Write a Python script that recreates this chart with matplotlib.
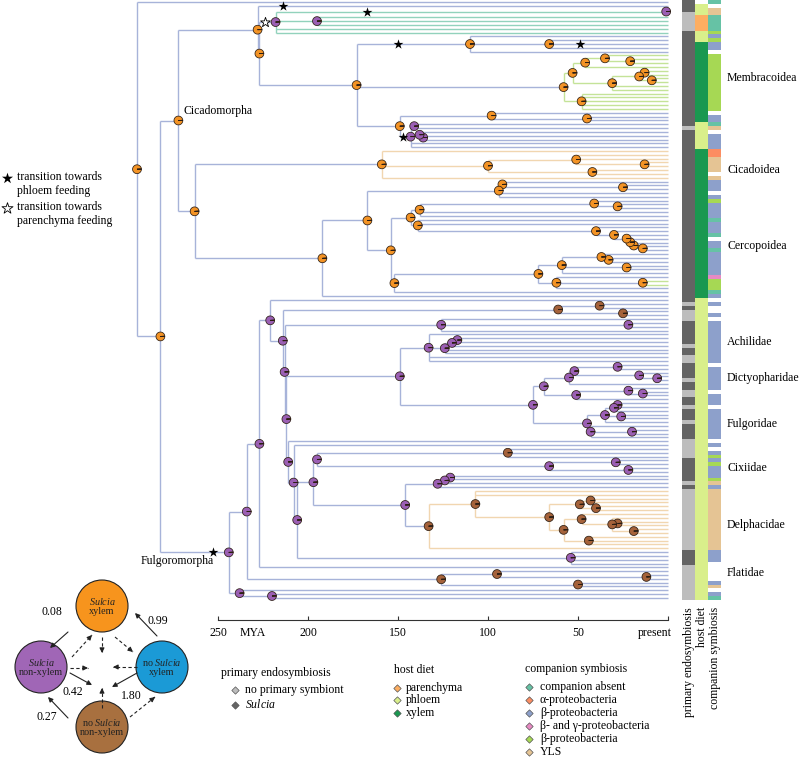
import matplotlib
matplotlib.use('Agg')
import matplotlib.pyplot as plt
from matplotlib.patches import Wedge, Circle
import matplotlib.transforms as mtransforms
from matplotlib.collections import LineCollection

plt.rcParams['font.family'] = ['Liberation Serif', 'DejaVu Serif']
plt.rcParams['mathtext.fontset'] = 'custom'
plt.rcParams['mathtext.rm'] = 'Liberation Serif'
plt.rcParams['mathtext.it'] = 'Liberation Serif:italic'
FS = 8.5

# ---------------- tree description (ages in MYA) ----------------
def T(star=None):
    return dict(age=0.0, pie=None, kids=[], col=None, star=star)

def N(age, pie, kids, col=None, star=None):
    return dict(age=age, pie=pie, kids=kids, col=col, star=star)

# Cicadomorpha, upper clade
p3 = N(218, 'p', [N(1, 'p', [T(), T()], star=(167, 'f')), N(195, 'p', [T(), T(), T()]), T(), T()],
       col='teal', star=(224, 'o'))
q1 = N(110, 'o', [T(), N(66, 'o', [T(), T(star=(49, 'f')), T()]), T()], star=(150, 'f'))
membracoidea = N(58, 'o', [
    N(53, 'o', [N(46, 'o', [N(35, 'o', [T(), N(21, 'o', [T(), T()])]), T()]),
                N(31, 'o', [N(16, 'o', [N(13, 'o', [T(), T()]), N(9, 'o', [T(), T()])]), T(), T()])]),
    N(48, 'o', [T(), T(), T(), T(), T()])], col='green')
purp = N(143, 'p', [N(141, 'p', [T(), T()]), N(138, 'p', [T(), N(136, 'p', [T(), T()])]), T(), T()],
         star=(147, 'f'))
q3 = N(149, 'o', [N(98, 'o', [T(), N(45, 'o', [T(), T()])]), purp])
p4 = N(173, 'o', [q1, membracoidea, q3])
top_clade = N(228, 'o', [T(star=(214, 'f')), N(227, 'o', [p3, p4])])

# Cicadoidea
cicadoidea = N(159, 'o', [T(), N(100, 'o', [N(51, 'o', [T(), T(), N(13, 'o', [T(), T()])]),
                                            N(42, 'o', [T(), T()])]), T()], col='tan')
# Cercopoidea
c1a = N(94, 'o', [N(92, 'o', [T(), N(25, 'o', [T(), T()])]), T(), T()])
d1a = N(138, 'o', [N(41, 'o', [T(), N(28, 'o', [T(), T()])]), T(), T()])
d1b = N(139, 'o', [T(), T(), N(40, 'o', [T(), N(30, 'o', [T(), N(23, 'o', [T(), N(21, 'o', [
    T(), N(19, 'o', [T(), N(14, 'o', [T(), T()])])])])])])])
d2 = N(152, 'o', [N(72, 'o', [N(59, 'o', [N(37, 'o', [T(), N(33, 'o', [T(), T()])]), N(23, 'o', [T(), T()]), T()]),
                              N(62, 'o', [T(), N(14, 'o', [T(), T()], col='green'), T()])]), T()])
cercopoidea = N(192, 'o', [N(167, 'o', [c1a, N(154, 'o', [N(143, 'o', [d1a, d1b]), d2])]), T()])

cicadomorpha = N(272, 'o', [top_clade, N(263, 'o', [cicadoidea, cercopoidea])])

# Fulgoromorpha
n62b = N(61, 'b', [N(38, 'b', [T(), T()]), N(25, 'b', [T(), T()])])
d_cl = N(126, 'p', [T(), N(22, 'p', [T(), T()]), T()])
achilidae = N(133, 'p', [T(), N(124, 'p', [N(120, 'p', [N(117, 'p', [T(), T()]), T()]), T(), T()]), T(), T()])
dictyopharidae = N(69, 'p', [N(55, 'p', [N(52, 'p', [N(28, 'p', [T(), T()]), N(16, 'p', [T(), N(6, 'p', [T(), T()])])]), T()]),
                             N(51, 'p', [N(22, 'p', [T(), N(14, 'p', [T(), T()])]), T()])])
fulgoridae = N(45, 'p', [N(35, 'p', [N(30, 'p', [N(28, 'p', [T(), T()]), T()]), N(26, 'p', [T(), T()]), T()]),
                         N(43, 'p', [T(), N(20, 'p', [T(), T()]), T()])])
delphacidae = N(133, 'b', [N(107, 'b', [T(), T(), N(66, 'b', [
    N(49, 'b', [N(43, 'b', [T(), T()]), N(40, 'b', [T(), T()])]),
    N(58, 'b', [N(48, 'b', [T(), N(31, 'b', [T(), N(28, 'b', [T(), T()]), N(19, 'b', [T(), T()])])]),
                N(44, 'b', [T(), T(), T()])])])]), T()], col='tan')
p_cl = N(195, 'p', [N(89, 'b', [T(), T(), T()]), N(66, 'p', [N(29, 'p', [T(), T()]), N(22, 'p', [T(), T()])])])
r_cl = N(128, 'p', [N(124, 'p', [N(121, 'p', [T(), T()]), T()]), T()])
m_cl = N(197, 'p', [p_cl, N(146, 'p', [r_cl, delphacidae])])
l_cl = N(206, 'p', [m_cl, N(54, 'p', [T(), T(), T(), T()])])
h_cl = N(211, 'p', [T(), N(208, 'p', [T(), l_cl])])
e_cl = N(212, 'p', [N(149, 'p', [achilidae, N(75, 'p', [dictyopharidae, fulgoridae])]), h_cl])
a_cl = N(221, 'p', [T(), N(214, 'p', [n62b, N(213, 'p', [d_cl, e_cl])])])
flatidae = N(126, 'b', [N(95, 'b', [T(), N(12, 'b', [T(), T()])]), N(50, 'b', [T(), T()])])
fulgoromorpha = N(244, 'p', [N(234, 'p', [N(227, 'p', [a_cl, T()]), flatidae]),
                             N(238, 'p', [T(), N(220, 'p', [T(), T()])])], star=(253, 'f'))

tree = N(295, 'o', [T(), N(282, 'o', [cicadomorpha, fulgoromorpha])])

# ---------------- tip annotation columns (run lengths, top to bottom) ----------------
primary_runs = [('S', 3), ('N', 5), ('S', 25), ('N', 1), ('S', 45), ('N', 1), ('S', 1), ('N', 3),
                ('S', 6), ('N', 1), ('S', 2), ('N', 2), ('S', 4), ('N', 1), ('S', 2), ('N', 2),
                ('S', 2), ('N', 1), ('S', 3), ('N', 1), ('S', 4), ('N', 5), ('S', 6), ('N', 1),
                ('S', 1), ('N', 16), ('S', 4), ('N', 9)]
diet_runs = [('-', 1), ('P', 3), ('R', 4), ('P', 3), ('X', 21), ('P', 7), ('X', 39), ('P', 79)]
companion_runs = [('a', 1), ('-', 1), ('y', 2), ('a', 4), ('g', 1), ('b', 1), ('g', 1), ('b', 2), ('-', 1),
                  ('g', 15), ('-', 1), ('b', 2), ('a', 1), ('y', 1), ('-', 1), ('b', 4), ('o', 2), ('y', 4),
                  ('-', 1), ('y', 1), ('b', 3), ('-', 1), ('b', 1), ('g', 1), ('b', 4), ('a', 1), ('b', 3),
                  ('a', 1), ('-', 1), ('b', 2), ('a', 1), ('b', 6), ('k', 1), ('g', 3), ('a', 1), ('b', 1),
                  ('-', 1), ('b', 1), ('-', 2), ('b', 1), ('-', 1), ('b', 11), ('-', 1), ('b', 6), ('-', 1),
                  ('b', 3), ('-', 1), ('b', 8), ('-', 1), ('b', 1), ('-', 1), ('b', 1), ('g', 1), ('b', 1),
                  ('g', 1), ('b', 3), ('g', 1), ('y', 1), ('b', 1), ('y', 16), ('b', 3), ('-', 5), ('b', 1),
                  ('y', 1), ('-', 1), ('b', 1), ('a', 1)]

clade_names = ['Membracoidea', 'Cicadoidea', 'Cercopoidea', 'Achilidae', 'Dictyopharidae',
               'Fulgoridae', 'Cixiidae', 'Delphacidae', 'Flatidae']
clade_tip_pos = [20, 44, 64, 89, 98.5, 110.5, 122, 137, 149.5]

axis_ticks = [250, 200, 150, 100, 50, 0]
axis_labels = ['250', '200', '150', '100', '50', '']

diag_states = ['$\\it{Sulcia}$\nxylem', '$\\it{Sulcia}$\nnon-xylem', 'no $\\it{Sulcia}$\nxylem',
               'no $\\it{Sulcia}$\nnon-xylem']
diag_rates = ['0.08', '0.99', '0.42', '1.80', '0.27']

# ---------------- styles ----------------
BR_COL = {'blue': '#a7b3d9', 'teal': '#92d2bc', 'green': '#c4e398', 'tan': '#f1d6b0'}
PIE_COL = {'o': ('#f39325', '#8e4fa8'), 'p': ('#9b5fb4', '#f39325'), 'b': ('#a5623a', '#9b5fb4')}
PRIM_COL = {'S': '#646464', 'N': '#bdbdbd'}
DIET_COL = {'R': '#fdae61', 'P': '#d9ef8b', 'X': '#1a9850'}
COMP_COL = {'a': '#66c2a5', 'o': '#fc8d62', 'b': '#8da0cb', 'k': '#e78ac3', 'g': '#a6d854', 'y': '#e5c494'}

# ---------------- layout ----------------
segs, seg_cols, pies, stars = [], [], [], []
counter = [0]

def layout(n, parent_age, col):
    c = n['col'] or col
    if n['kids']:
        ys = [layout(k, n['age'], c) for k in n['kids']]
        y = (ys[0] + ys[-1]) / 2.0
        segs.append([(n['age'], ys[0]), (n['age'], ys[-1])])
        seg_cols.append(BR_COL[c])
        if n['pie']:
            pies.append((n['age'], y, n['pie']))
    else:
        y = counter[0]
        counter[0] += 1
    if parent_age is not None:
        segs.append([(parent_age, y), (n['age'], y)])
        seg_cols.append(BR_COL[col])
    if n['star']:
        stars.append((n['star'][0], y, n['star'][1]))
    return y

layout(tree, None, 'blue')
NT = counter[0]

W, H = 800, 758
fig = plt.figure(figsize=(W / 100, H / 100), dpi=100)

# overlay (pixel layout) axes for legends / schematic
ov = fig.add_axes([0, 0, 1, 1])
ov.set_xlim(0, W)
ov.set_ylim(H, 0)
ov.axis('off')

# main tree axes: pixel x 130..672, pixel y 0..620
px_per_my = 1.8
x_left, x_right = 130, 672
ax = fig.add_axes([x_left / W, 1 - 620 / H, (x_right - x_left) / W, 620 / H])
ax.set_xlim((668 - x_left) / px_per_my, (668 - x_right) / px_per_my)
tip_sp = 3.82
ax.set_ylim((620 - 2) / tip_sp, -2 / tip_sp)
ax.patch.set_alpha(0)
for s in ['top', 'right', 'left']:
    ax.spines[s].set_visible(False)
ax.spines['bottom'].set_bounds(0, 250)
ax.spines['bottom'].set_color('#333333')
ax.spines['bottom'].set_linewidth(0.8)
ax.set_yticks([])
ax.set_xticks(axis_ticks)
ax.set_xticklabels(axis_labels)
ax.tick_params(axis='x', direction='in', length=3, width=0.8, color='#333333', labelsize=FS, pad=5)

ax.add_collection(LineCollection(segs, colors=seg_cols, linewidths=1.0, zorder=2))

R_PX = 4.4
for (x, y, code) in pies:
    main, alt = PIE_COL[code]
    tr = mtransforms.Affine2D().scale(R_PX) + mtransforms.ScaledTranslation(x, y, ax.transData)
    ax.add_patch(Wedge((0, 0), 1, 4, 360, facecolor=main, edgecolor='#2b1d12', lw=0.55,
                       transform=tr, zorder=4, clip_on=False))
    ax.add_patch(Wedge((0, 0), 1, 0, 4, facecolor=alt, edgecolor='#2b1d12', lw=0.55,
                       transform=tr, zorder=4, clip_on=False))

for (x, y, kind) in stars:
    if kind == 'f':
        ax.scatter([x], [y], marker='*', s=55, c='k', zorder=5, linewidths=0)
    else:
        ax.scatter([x], [y], marker='*', s=55, facecolors='white', edgecolors='k',
                   linewidths=0.6, zorder=5)

# ---------------- annotation columns ----------------
axc = fig.add_axes([681.5 / W, 1 - 620 / H, (721 - 681.5) / W, 620 / H])
axc.set_xlim(0, 3)
axc.set_ylim((620 - 2) / tip_sp, -2 / tip_sp)
axc.axis('off')
for ci, (runs, cmap) in enumerate([(primary_runs, PRIM_COL), (diet_runs, DIET_COL), (companion_runs, COMP_COL)]):
    codes = [c for c, n in runs for _ in range(n)]
    ys = [i for i, c in enumerate(codes) if c in cmap]
    cols = [cmap[codes[i]] for i in ys]
    axc.barh(ys, [1] * len(ys), left=ci, height=1.0, color=cols, linewidth=0)

for name, tp in zip(clade_names, clade_tip_pos):
    ov.text(727, 2 + tip_sp * tp, name, fontsize=FS, ha='left', va='center')

for xx, lab in [(689, 'primary endosymbiosis'), (702, 'host diet'), (715, 'companion symbiosis')]:
    ov.text(xx, 607, lab, fontsize=FS, rotation=90, ha='center', va='top')

# clade labels on tree
ov.text(183, 111, 'Cicadomorpha', fontsize=FS, ha='left', va='center')
ov.text(141, 561, 'Fulgoromorpha', fontsize=FS, ha='left', va='center')

# axis extra labels
ov.text(253, 633, 'MYA', fontsize=FS, ha='center', va='center')
ov.text(672, 633, 'present', fontsize=FS, ha='right', va='center')

# left legend
ov.scatter([7], [178], marker='*', s=70, c='k', linewidths=0)
ov.scatter([7], [208], marker='*', s=70, facecolors='white', edgecolors='k', linewidths=0.6)
ov.text(17, 184, 'transition towards\nphloem feeding', fontsize=FS, ha='left', va='center', linespacing=1.15)
ov.text(17, 214, 'transition towards\nparenchyma feeding', fontsize=FS, ha='left', va='center', linespacing=1.15)

# bottom legends
def diamond(x, y, col):
    ov.scatter([x], [y], marker='D', s=14, c=col, edgecolors='#555555', linewidths=0.5)

ov.text(221, 673, 'primary endosymbiosis', fontsize=FS, ha='left', va='center')
for (lab, col, yy) in [('no primary symbiont', PRIM_COL['N'], 690), ('$\\it{Sulcia}$', PRIM_COL['S'], 705)]:
    diamond(235, yy, col)
    ov.text(245, yy, lab, fontsize=FS, ha='left', va='center')

ov.text(394, 670, 'host diet', fontsize=FS, ha='left', va='center')
for (lab, col, yy) in [('parenchyma', DIET_COL['R'], 688), ('phloem', DIET_COL['P'], 700),
                       ('xylem', DIET_COL['X'], 713)]:
    diamond(397, yy, col)
    ov.text(406, yy, lab, fontsize=FS, ha='left', va='center')

ov.text(525, 669, 'companion symbiosis', fontsize=FS, ha='left', va='center')
comp_items = [('companion absent', 'a'), ('α-proteobacteria', 'o'), ('β-proteobacteria', 'b'),
              ('β- and γ-proteobacteria', 'k'), ('β-proteobacteria', 'g'), ('YLS', 'y')]
for k, (lab, code) in enumerate(comp_items):
    yy = 687 + 13 * k
    diamond(529, yy, COMP_COL[code])
    ov.text(540, yy, lab, fontsize=FS, ha='left', va='center')

# ---------------- transition schematic ----------------
diag_colors = ['#f7941d', '#a066b6', '#1b9ad6', '#a8703f']
diag_xy = [(102, 606), (41, 667), (162, 667), (102, 727)]
for (cx, cy), col, lab in zip(diag_xy, diag_colors, diag_states):
    ov.add_patch(Circle((cx, cy), 26, facecolor=col, edgecolor='#222222', lw=0.8))
    ov.text(cx, cy, lab, fontsize=7.3, ha='center', va='center', color='#222222', linespacing=1.1)

solid_arrows = [((68, 632), (50, 648), (52, 612)), ((157, 636), (135, 613), (158, 621)),
                ((70, 673), (92, 685), (73, 692)), ((137, 673), (112, 687), (131, 696)),
                ((68, 718), (48, 697), (47, 717))]
for (p0, p1, lp), rate in zip(solid_arrows, diag_rates):
    ov.annotate('', xy=p1, xytext=p0,
                arrowprops=dict(arrowstyle='-|>', lw=0.8, color='#222222', shrinkA=0, shrinkB=0,
                                mutation_scale=7))
    ov.text(lp[0], lp[1], rate, fontsize=8.5, ha='center', va='center')

dashed_arrows = [((102, 637), (102, 653)), ((72, 657), (92, 635)), ((115, 637), (133, 652)),
                 ((70, 668), (88, 668)), ((137, 667), (113, 667)), ((102, 708), (102, 688)),
                 ((130, 717), (155, 697))]
for p0, p1 in dashed_arrows:
    ov.plot([p0[0], p1[0]], [p0[1], p1[1]], color='#222222', lw=0.8, ls=(0, (3, 2.2)))
    dx, dy = p1[0] - p0[0], p1[1] - p0[1]
    L = (dx * dx + dy * dy) ** 0.5
    ov.annotate('', xy=p1, xytext=(p1[0] - dx / L * 3, p1[1] - dy / L * 3),
                arrowprops=dict(arrowstyle='-|>', lw=0.8, color='#222222', shrinkA=0, shrinkB=0,
                                mutation_scale=7))

fig.savefig('out.png', dpi=100)
